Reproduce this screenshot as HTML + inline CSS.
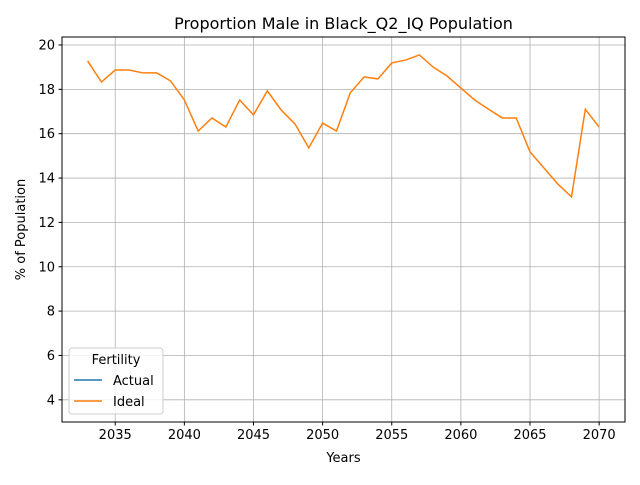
<!DOCTYPE html>
<html><head><meta charset="utf-8"><style>
body{margin:0;background:#fff;font-family:"Liberation Sans","DejaVu Sans",sans-serif}
svg text{font-family:"DejaVu Sans","Liberation Sans",sans-serif;fill:#000}
</style></head><body>
<svg id="chart" width="640" height="480" xmlns="http://www.w3.org/2000/svg">
<rect width="640" height="480" fill="#fff"/>
<text x="343.5" y="29" font-size="16" text-anchor="middle">Proportion Male in Black_Q2_IQ Population</text>
<g id="grid"></g>
<g id="ticks"></g>
<g id="series"></g>
<rect x="62" y="37" width="563" height="385" fill="none" stroke="#000" stroke-width="1"/>
<text x="343.5" y="462" font-size="13" text-anchor="middle">Years</text>
<text transform="translate(25,229.5) rotate(-90)" font-size="13" text-anchor="middle">% of Population</text>
<g>
<rect x="69" y="348" width="94" height="66" rx="3" fill="#fff" fill-opacity="0.8" stroke="#ccc"/>
<text x="116" y="364" font-size="13" text-anchor="middle">Fertility</text>
<line x1="74" y1="380" x2="102" y2="380" stroke="#1f77b4" stroke-width="1.5"/>
<text x="113" y="385" font-size="13">Actual</text>
<line x1="74" y1="401" x2="102" y2="401" stroke="#ff7f0e" stroke-width="1.5"/>
<text x="113" y="406" font-size="13">Ideal</text>
</g>
</svg>
<script>
const years=[2033,2034,2035,2036,2037,2038,2039,2040,2041,2042,2043,2044,2045,2046,2047,2048,2049,2050,2051,2052,2053,2054,2055,2056,2057,2058,2059,2060,2061,2062,2063,2064,2065,2066,2067,2068,2069,2070];
const idealValues=[19.28,18.33,18.87,18.87,18.74,18.74,18.38,17.52,16.12,16.71,16.3,17.52,16.85,17.93,17.07,16.44,15.36,16.48,16.12,17.84,18.56,18.47,19.19,19.32,19.55,19.0,18.6,18.06,17.52,17.1,16.71,16.71,15.18,14.46,13.74,13.15,17.1,16.3];
const actualValues=[];
const xTicks=[2035,2040,2045,2050,2055,2060,2065,2070];
const yTicks=[4,6,8,10,12,14,16,18,20];
const NS="http://www.w3.org/2000/svg";
const L=62,R=625,T=37,B=422,xMin=2031.15,xMax=2071.87,yMin=3.0,yMax=20.36;
function sx(v){return L+(v-xMin)/(xMax-xMin)*(R-L);}
function sy(v){return B-(v-yMin)/(yMax-yMin)*(B-T);}
const grid=document.getElementById('grid'),ticks=document.getElementById('ticks'),series=document.getElementById('series');
function mk(t,a,p){const e=document.createElementNS(NS,t);for(const k in a)e.setAttribute(k,a[k]);p.appendChild(e);return e;}
xTicks.forEach(v=>{const x=sx(v);
 const g=mk('line',{x1:x,y1:T,x2:x,y2:B,stroke:'#b0b0b0','stroke-width':0.8},grid);
 
 
 mk('line',{x1:x,y1:B,x2:x,y2:B+3.5,stroke:'#000'},ticks);
 const t=mk('text',{x:x,y:B+17,'font-size':13,'text-anchor':'middle'},ticks);t.textContent=v;
 
 
});
yTicks.forEach(v=>{const y=sy(v);
 const g=mk('line',{x1:L,y1:y,x2:R,y2:y,stroke:'#b0b0b0','stroke-width':0.8},grid);
 
 
 mk('line',{x1:L-3.5,y1:y,x2:L,y2:y,stroke:'#000'},ticks);
 const t=mk('text',{x:L-7,y:y+4.5,'font-size':13,'text-anchor':'end'},ticks);t.textContent=v;
 
 
});
function line(vals,color,name){if(!vals.length)return;
 const p=mk('polyline',{points:vals.map((v,i)=>sx(years[i])+','+sy(v)).join(' '),fill:'none',stroke:color,'stroke-width':1.5},series);
 
 
}
line(actualValues,'#1f77b4','actual-line');
line(idealValues,'#ff7f0e','ideal-line');
</script>
</body></html>
